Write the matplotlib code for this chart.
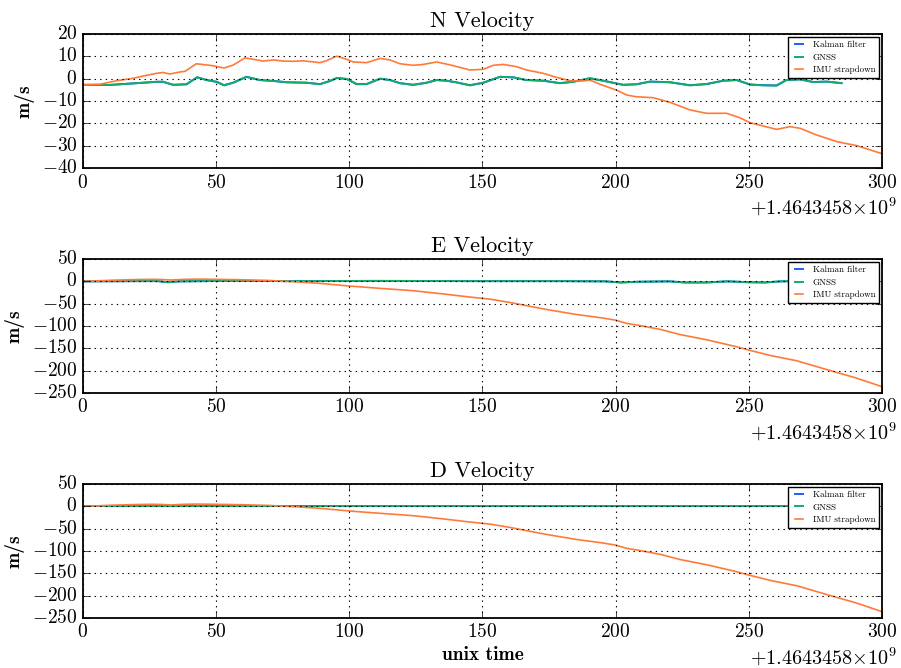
"""
plot.py

N / E / D velocity comparison: Kalman filter vs GNSS vs IMU strapdown.
Values read off the reference chart, time in seconds after 1464345800.
"""

import numpy as np
import matplotlib
matplotlib.use("Agg")
import matplotlib.pyplot as plt
from matplotlib.ticker import ScalarFormatter

T0 = 1464345800

KALMAN_COLOR = "#1f5cff"
GNSS_COLOR = "#12ab6b"
IMU_COLOR = "#ff7a3a"

# ---- N velocity ------------------------------------------------------------
n_gnss_t = [0, 10, 18.9, 27.6, 30, 33.9, 38.9, 42.9, 46.4, 50.2, 53, 56.4, 61.4,
            66.4, 71.5, 76.5, 84, 89, 92.8, 95.3, 99, 102.8, 106.5, 111.6, 115.3,
            119, 124, 129, 132.8, 136.5, 140, 145.3, 150.3, 156.6, 161.6, 166.5,
            172.8, 179, 184, 190.3, 195.3, 202.8, 207.8, 212.9, 220.4, 227.9,
            234.1, 240.4, 245.4, 250.4, 255.4, 260.4, 264.1, 269.2, 274.2, 279.2,
            284.8]
n_gnss_v = [-2.8, -2.8, -2.1, -1.4, -1.3, -2.8, -2.5, 0.7, -0.6, -1.4, -3.0, -1.8,
            0.9, -0.6, -1.0, -1.6, -1.8, -2.5, -1.0, 0.3, -0.1, -2.5, -2.4, 0.0,
            -0.6, -2.0, -2.8, -1.8, -0.6, -0.9, -1.6, -3.0, -1.8, 0.9, 0.6, -0.6,
            -0.9, -2.0, -1.4, 0.2, -0.9, -2.8, -2.5, -1.3, -1.6, -3.0, -2.4, -0.9,
            -0.6, -2.6, -3.0, -3.1, -0.6, -0.3, -1.5, -1.3, -2.0]
n_kalman_t = n_gnss_t
n_kalman_v = [-2.7, -2.8, -2.1, -1.4, -1.4, -2.7, -2.5, 0.6, -0.6, -1.4, -2.9, -1.8,
              0.8, -0.6, -1.0, -1.6, -1.8, -2.4, -1.0, 0.3, -0.1, -2.4, -2.4, 0.0,
              -0.6, -2.0, -2.7, -1.8, -0.6, -0.9, -1.6, -2.9, -1.8, 0.8, 0.6, -0.6,
              -0.9, -2.0, -1.4, 0.2, -0.9, -2.7, -2.5, -1.3, -1.6, -2.9, -2.4, -0.9,
              -0.6, -2.6, -2.9, -3.0, -0.6, -0.3, -1.5, -1.3, -2.0]
n_imu_t = [0, 6.4, 12.7, 18.9, 22.6, 27.6, 30.1, 32.6, 36.4, 38.3, 42.6, 48.9, 53,
           56.4, 60.8, 64, 67.7, 71.5, 75.2, 79, 82.7, 89, 91.5, 95.3, 99, 101.5,
           106.5, 111.6, 115.3, 119, 124, 127.8, 132.8, 137.8, 145.3, 150.3, 154,
           157.8, 162.8, 166.5, 172.8, 177.8, 182.8, 187.8, 190.3, 194.1, 200.3,
           204.1, 207.8, 214.1, 220.4, 227.9, 234.1, 241.6, 246.6, 250.4, 255.4,
           260.4, 265.4, 269.2, 275.4, 283, 290.5, 300]
n_imu_v = [-2.8, -2.5, -0.9, 0.2, 1.2, 2.4, 2.8, 2.1, 3.0, 3.3, 6.7, 5.8, 4.8,
           6.1, 9.3, 8.7, 7.9, 8.4, 7.9, 7.8, 8.0, 7.2, 8.1, 10.1, 8.7, 7.5,
           7.2, 9.1, 8.4, 6.7, 6.0, 6.4, 7.5, 6.2, 3.9, 4.2, 6.0, 6.4, 5.4, 3.9,
           2.4, 0.6, -0.9, -1.0, -0.6, -2.5, -5.1, -7.3, -8.1, -8.5, -10.6, -14.0,
           -15.5, -15.5, -17.5, -19.7, -21.2, -22.7, -21.5, -22.2, -25.2, -28.2,
           -30.0, -33.6]

# ---- E velocity ------------------------------------------------------------
e_gnss_t = [0, 20, 28, 32, 36, 55, 80, 110, 150, 180, 196, 202, 208, 220, 226,
            234, 242, 250, 256, 262, 270, 284]
e_gnss_v = [0, 0.5, 0.5, -2, 0, 1, 0.5, 1, 0.5, 0.5, 0, -2.5, -1, 0, -2.5,
            -2.5, 0, -2, -2.5, 0, 0.5, 0]
e_kalman_t = e_gnss_t
e_kalman_v = [0, 0.5, 0.5, -2, 0, 1, 0.5, 1, 0.5, 0.5, 0, -2.5, -1, 0, -2.5,
              -2.5, 0, -2, -2.5, 0, 0.5, 0]
e_imu_t = [0, 5, 11, 20, 26, 30, 33, 38, 43, 50, 60, 70, 74, 80, 90, 99, 110,
           124, 135, 145, 153, 160, 174, 185, 195, 200, 204, 210, 217, 224, 235,
           245, 250, 258, 268, 280, 290, 300]
e_imu_v = [0, 1, 2.5, 4, 4.5, 4, 3, 4.5, 5, 4.5, 3.5, 2, 0.5, -1, -5, -10, -15,
           -21, -28, -35, -40, -47, -63, -74, -82, -87, -94, -100, -108, -119,
           -132, -146, -154, -166, -178, -199, -216, -236]

# ---- D velocity ------------------------------------------------------------
d_gnss_t = [0, 50, 100, 150, 200, 250, 284]
d_gnss_v = [0, 0, 0, 0, 0, 0, 0]
d_kalman_t = d_gnss_t
d_kalman_v = [0, 0, 0, 0, 0, 0, 0]
d_imu_t = e_imu_t
d_imu_v = [0, 1, 2.5, 4, 4.5, 4, 3, 4.5, 5, 4.5, 3.5, 2, 0.5, -1, -5, -10, -15,
           -21, -28, -35, -40, -47, -63, -74, -82, -87, -94, -100, -108, -119,
           -132, -146, -154, -166, -178, -199, -216, -236]

PANELS = [
    ("N Velocity", (n_kalman_t, n_kalman_v), (n_gnss_t, n_gnss_v), (n_imu_t, n_imu_v),
     (-40, 20), [-40, -30, -20, -10, 0, 10, 20]),
    ("E Velocity", (e_kalman_t, e_kalman_v), (e_gnss_t, e_gnss_v), (e_imu_t, e_imu_v),
     (-250, 50), [-250, -200, -150, -100, -50, 0, 50]),
    ("D Velocity", (d_kalman_t, d_kalman_v), (d_gnss_t, d_gnss_v), (d_imu_t, d_imu_v),
     (-250, 50), [-250, -200, -150, -100, -50, 0, 50]),
]

plt.style.use("classic")
plt.rcParams.update({
    "font.family": "cmr10",
    "mathtext.fontset": "cm",
    "axes.formatter.use_mathtext": True,
    "figure.facecolor": "white",
    "savefig.facecolor": "white",
    "axes.linewidth": 1.3,
    "xtick.major.size": 5,
    "ytick.major.size": 5,
    "xtick.labelsize": 14,
    "ytick.labelsize": 14,
})


class TightOffsetFormatter(ScalarFormatter):
    # old-style offset text: no spaces around the \times sign
    def get_offset(self):
        return super().get_offset().replace(r"\times", r"{\times}")


def draw_panel(ax, title, kalman, gnss, imu, ylim, yticks):
    ax.plot(np.array(kalman[0]) + T0, kalman[1], color=KALMAN_COLOR, lw=1.4,
            label="Kalman filter")
    ax.plot(np.array(gnss[0]) + T0, gnss[1], color=GNSS_COLOR, lw=1.4, label="GNSS")
    ax.plot(np.array(imu[0]) + T0, imu[1], color=IMU_COLOR, lw=1.2,
            label="IMU strapdown")

    ax.set_xlim(T0, T0 + 300)
    ax.set_ylim(*ylim)
    ax.set_yticks(yticks)
    fmt = TightOffsetFormatter(useOffset=T0)
    ax.xaxis.set_major_formatter(fmt)
    ax.xaxis.get_offset_text().set_x(1.019)
    ax.xaxis.get_offset_text().set_fontsize(14.5)
    ax.grid(True, color="k", linestyle=":", linewidth=0.8)
    ax.set_title(title, fontsize=16)
    ax.set_ylabel("m/s", fontfamily="cmb10", fontsize=14)

    leg = ax.legend(loc="upper right", fontsize=6.5, handlelength=1.5,
                    borderaxespad=0.3, labelspacing=0.45, borderpad=0.45)
    leg.get_frame().set_linewidth(1.0)
    leg.get_frame().set_edgecolor("k")


def main():
    fig, axes = plt.subplots(3, 1, figsize=(9.01, 6.68), dpi=100)
    fig.subplots_adjust(left=0.092, right=0.979, top=0.949, bottom=0.075, hspace=0.68)

    for ax, (title, kalman, gnss, imu, ylim, yticks) in zip(axes, PANELS):
        draw_panel(ax, title, kalman, gnss, imu, ylim, yticks)

    axes[-1].set_xlabel("unix time", fontfamily="cmb10", fontsize=14, labelpad=3)

    fig.savefig("out.png", dpi=100)
    plt.close(fig)


if __name__ == "__main__":
    main()
